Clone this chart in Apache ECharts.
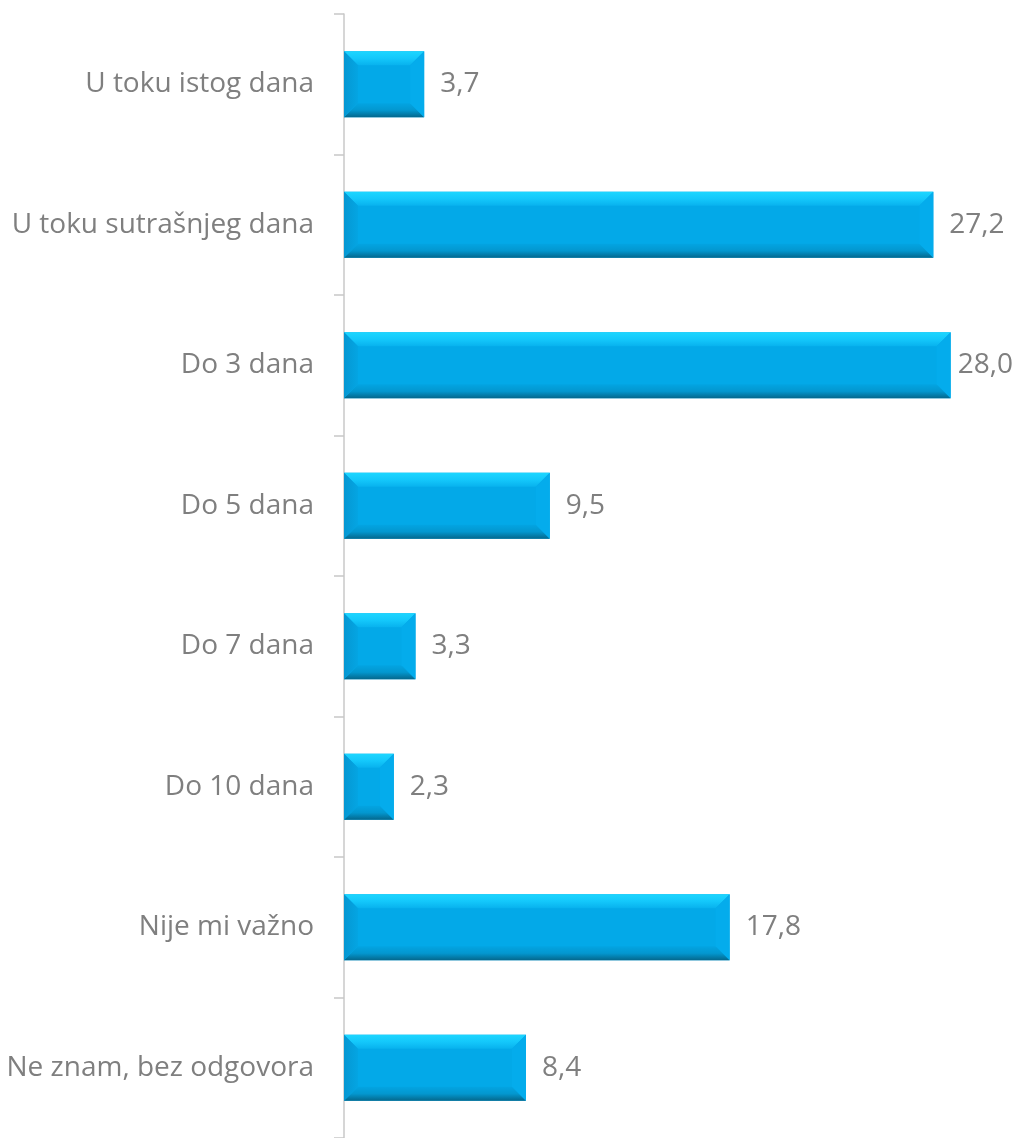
<!DOCTYPE html>
<html><head><meta charset="utf-8">
<script src="https://cdn.jsdelivr.net/npm/echarts@6/dist/echarts.min.js"></script>
<style>html,body{margin:0;padding:0;background:#fff}#c{width:1017px;height:1138px}</style>
</head><body><div id="c"></div>
<script>
const categories = ['U toku istog dana','U toku sutrašnjeg dana','Do 3 dana','Do 5 dana','Do 7 dana','Do 10 dana','Nije mi važno','Ne znam, bez odgovora'];
const values = [3.7, 27.2, 28.0, 9.5, 3.3, 2.3, 17.8, 8.4];
const valueLabels = ['3,7','27,2','28,0','9,5','3,3','2,3','17,8','8,4'];

const chart = echarts.init(document.getElementById('c'));
const FONT = 'Open Sans';
const FS = 28;
function renderItem(params, api) {
  const cat = api.value(0), val = api.value(1);
  const p0 = api.coord([0, cat]);
  const p1 = api.coord([val, cat]);
  const bandH = api.size([0, 1])[1];
  const h = bandH * 0.47;
  const x0 = p0[0], x1 = p1[0], yc = p0[1];
  const y0 = yc - h/2, y1 = yc + h/2;
  const b = Math.min(14, (x1 - x0) / 3.5);
  const bv = 14;
  const poly = (pts, fill) => ({type:'polygon', shape:{points:pts}, style:{fill:fill}});
  const txt = valueLabels[params.dataIndex];
  const font = FS + 'px "' + FONT + '"';
  const tw = echarts.format.getTextRect ? echarts.format.getTextRect(txt, font).width : txt.length * 15;
  const maxRight = params.coordSys.x + params.coordSys.width + 19;
  let lx = x1 + 16;
  if (lx + tw > maxRight) lx = maxRight - tw;
  return {
    type:'group',
    children:[
      {type:'rect', shape:{x:x0, y:y0, width:x1-x0, height:h}, style:{fill:'#03a9e8'}},
      poly([[x0,y0],[x1,y0],[x1-b,y0+bv],[x0+b,y0+bv]], new echarts.graphic.LinearGradient(0,0,0,1,[{offset:0,color:'#1dd6ff'},{offset:0.5,color:'#14c8fb'},{offset:1,color:'#08b2ee'}])),
      poly([[x0,y1],[x1,y1],[x1-b,y1-bv],[x0+b,y1-bv]], new echarts.graphic.LinearGradient(0,0,0,1,[{offset:0,color:'#03a4e2'},{offset:0.5,color:'#0397cf'},{offset:1,color:'#04678c'}])),
      poly([[x0,y0],[x0+b,y0+bv],[x0+b,y1-bv],[x0,y1]], new echarts.graphic.LinearGradient(0,0,1,0,[{offset:0,color:'#0597d2'},{offset:1,color:'#04a5e3'}])),
      poly([[x1,y0],[x1-b,y0+bv],[x1-b,y1-bv],[x1,y1]], '#04acec'),
      {type:'text', style:{text:txt, x:lx, y:yc, textVerticalAlign:'middle', textAlign:'left', fill:'#7f7f7f', font:font}}
    ]
  };
}
chart.setOption({
  animation:false,
  grid:{left:344, right:23, top:14, height:1128},
  xAxis:{type:'value', min:0, max:30, show:false},
  yAxis:{type:'category', data:categories, inverse:true,
    axisLine:{lineStyle:{color:'#c8c8c8', width:1.5}},
    axisTick:{show:true, length:10, lineStyle:{color:'#c8c8c8', width:1.5}},
    axisLabel:{color:'#7f7f7f', fontSize:FS, fontFamily:FONT, margin:30}},
  series:[{type:'custom', renderItem:renderItem, data:values.map((v,i)=>[i,v]), encode:{x:1,y:0}}]
});
</script></body></html>
